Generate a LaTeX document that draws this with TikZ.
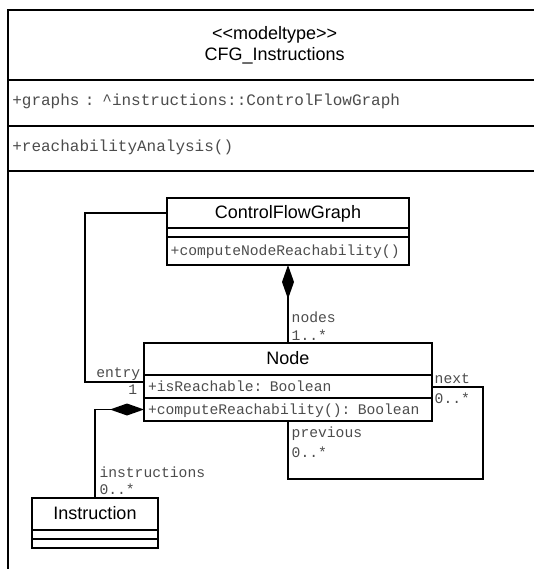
\documentclass[tikz,border=0pt]{standalone}
\usepackage{fontspec}
\usetikzlibrary{arrows.meta}
\newfontfamily\umlsans{Liberation Sans}
\newfontfamily\umlmono{Liberation Mono}

\tikzset{
  umlpart/.style={draw, line width=1.7pt, anchor=north west, outer sep=0pt,
    inner xsep=4pt, inner ysep=0pt},
  classname/.style={umlpart, font=\umlsans\fontsize{18}{21}\selectfont,
    align=center, text height=13pt, text depth=2pt},
  classmember/.style={umlpart, font=\umlmono\fontsize{14.67}{17}\selectfont,
    align=left, text=black!70, text height=9pt, text depth=0pt},
  pkgmember/.style={umlpart, font=\umlmono\fontsize{16}{19}\selectfont,
    align=left, text=black!70, text width=524.7pt, text height=9pt, text depth=3pt},
  rolelabel/.style={font=\umlmono\fontsize{14.67}{17}\selectfont, text=black!70,
    inner sep=0pt, anchor=base west},
  link/.style={line width=1.7pt},
  composition/.style={link, arrows={Diamond[length=34pt,width=12pt]-}},
}

\begin{document}
\begin{tikzpicture}[x=1pt,y=-1pt]
  \path[use as bounding box, clip] (0,0) rectangle (534,569);
  % the model type package
  \node[umlpart, font=\umlsans\fontsize{18}{21}\selectfont, align=center,
    text width=524.7pt, minimum height=70pt] (pkgname) at (8.3,10)
    {<{}<modeltype>{}>\\CFG\_Instructions};
  \node[pkgmember, minimum height=46pt] (pkgattr) at (pkgname.south west)
    {+graphs : \textasciicircum instructions::ControlFlowGraph};
  \node[pkgmember, minimum height=44.7pt] (pkgops) at (pkgattr.south west)
    {+reachabilityAnalysis()};
  \node[umlpart, text width=524.7pt, minimum height=430pt] (pkgbody) at (pkgops.south west) {};
  % ControlFlowGraph
  \node[classname, text width=234.6pt, minimum height=30.6pt] (cfgname) at (166.7,197.7) {ControlFlowGraph};
  \node[classmember, text width=234.6pt, minimum height=9pt] (cfgattr) at (cfgname.south west) {};
  \node[classmember, text width=234.6pt, minimum height=27.7pt] (cfgops) at (cfgattr.south west)
    {+computeNodeReachability()};
  % Node
  \node[classname, text width=279.7pt, minimum height=32.3pt] (nodename) at (144,342.7) {Node};
  \node[classmember, text width=279.7pt, minimum height=23.3pt] (nodeattr) at (nodename.south west)
    {+isReachable: Boolean};
  \node[classmember, text width=279.7pt, minimum height=22.4pt] (nodeops) at (nodeattr.south west)
    {+computeReachability(): Boolean};
  % Instruction
  \node[classname, text width=117.4pt, minimum height=32.3pt] (instname) at (32.3,497.7) {Instruction};
  \node[classmember, text width=117.4pt, minimum height=9.3pt] (instattr) at (instname.south west) {};
  \node[classmember, text width=117.4pt, minimum height=9pt] (instops) at (instattr.south west) {};
  % nodes of a graph
  \draw[composition] (cfgops.south) -- (cfgops.south |- nodename.north);
  \node[rolelabel] (nodesrole) at (291.5,322.4) {nodes};
  \node[rolelabel] (nodesmult) at (291.5,340) {1..*};
  % entry node
  \coordinate (entryend) at ([yshift=5pt]nodeattr.west);
  \draw[link] (cfgname.west) -| ([xshift=-59pt]entryend) -- (entryend);
  \node[rolelabel, anchor=base east] (entryrole) at (140.5,377.5) {entry};
  \node[rolelabel, anchor=base east] (entrymult) at (137.5,394) {1};
  % next / previous
  \coordinate (loopcorner) at (482.7,479.3);
  \draw[link] (nodeattr.east) -| (loopcorner) -| (nodeops.south);
  \node[rolelabel] (nextrole) at (434.5,383.3) {next};
  \node[rolelabel] (nextmult) at (434.5,403.3) {0..*};
  \node[rolelabel] (prevrole) at (291.5,437) {previous};
  \node[rolelabel] (prevmult) at (291.5,457) {0..*};
  % instructions of a node
  \draw[composition] (nodeops.west) -| (instname.north);
  \node[rolelabel] (instrole) at (99.3,477.5) {instructions};
  \node[rolelabel] (instmult) at (99.3,494.5) {0..*};
\end{tikzpicture}
\end{document}
